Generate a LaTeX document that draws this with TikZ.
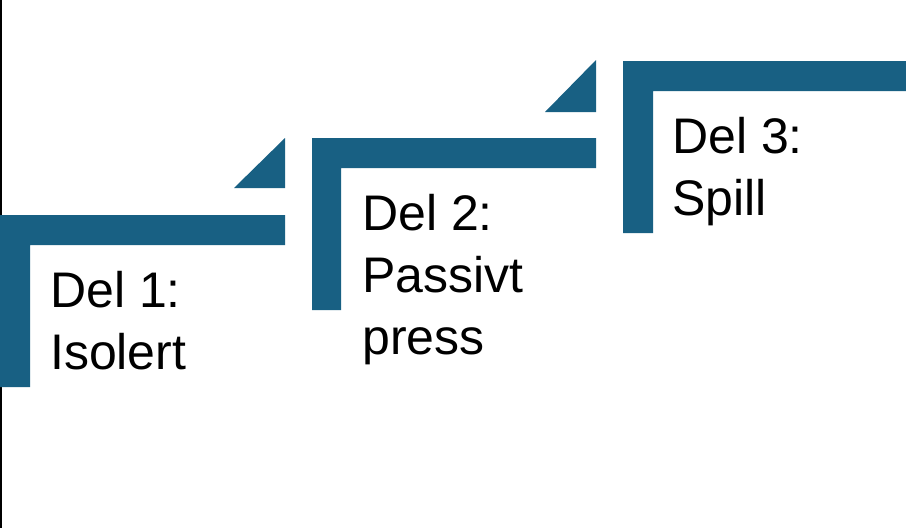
\documentclass[tikz,border=0pt]{standalone}
\usepackage{fontspec}
\setmainfont{Liberation Sans}
\usepackage{tikz}
\definecolor{stepblue}{RGB}{24,96,131}

\begin{document}
\begin{tikzpicture}[x=1pt, y=-1pt,
    bar/.style={fill=stepblue, draw=none},
    label/.style={anchor=base west, align=left, inner sep=0pt,
      font=\fontsize{50}{62}\selectfont}]
  \useasboundingbox (0,0) rectangle (906,528);
  \fill[white] (0,0) rectangle (906,528);
  \draw[black, line width=1.5pt] (0.75,0) -- (0.75,528);
  % step 1
  \fill[bar] (0,215) -- (285,215) -- (285,245) -- (30,245) -- (30,387) -- (0,387) -- cycle;
  \fill[bar] (234,188) -- (285,188) -- (285,138) -- cycle;
  \node[label] (del1) at (50,369) {Del 1:\\Isolert};
  % step 2
  \fill[bar] (312,138) -- (596,138) -- (596,168) -- (341,168) -- (341,310) -- (312,310) -- cycle;
  \fill[bar] (545,112) -- (596,112) -- (596,60) -- cycle;
  \node[label] (del2) at (362,354) {Del 2:\\Passivt\\press};
  % step 3
  \fill[bar] (623,61) -- (906,61) -- (906,91) -- (653,91) -- (653,233) -- (623,233) -- cycle;
  \node[label] (del3) at (672,215) {Del 3:\\Spill};
\end{tikzpicture}
\end{document}
